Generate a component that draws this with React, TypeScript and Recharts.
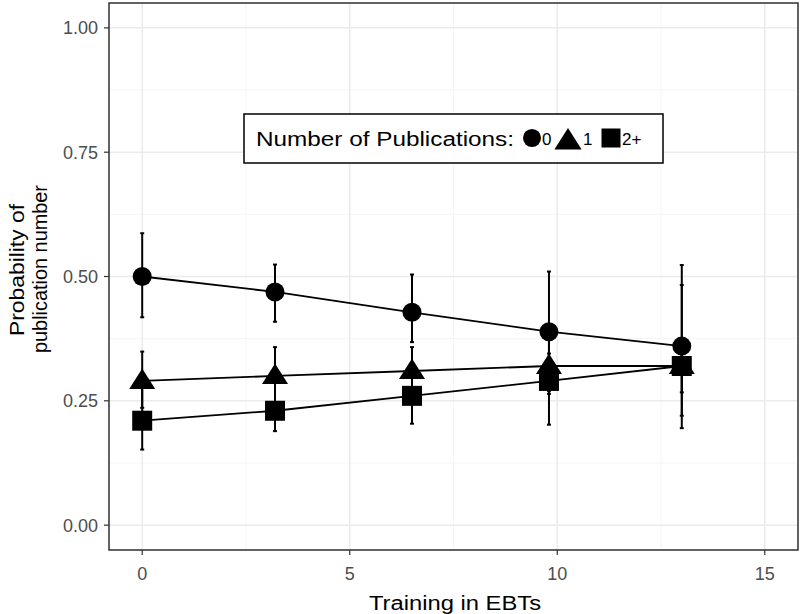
import React from 'react';
import { LineChart, Line, XAxis, YAxis, CartesianGrid, ErrorBar, ReferenceArea, Legend } from 'recharts';

// Training in EBTs (x positions of the estimates)
const training = [0, 3.2, 6.5, 9.8, 13];

// Number of publications: 0
const pub0 = [0.5, 0.469, 0.428, 0.389, 0.36];
const pub0Low = [0.418, 0.409, 0.368, 0.27, 0.195];
const pub0High = [0.587, 0.524, 0.504, 0.51, 0.523];

// Number of publications: 1
const pub1 = [0.29, 0.3, 0.31, 0.32, 0.32];
const pub1Low = [0.236, 0.242, 0.262, 0.264, 0.22];
const pub1High = [0.349, 0.358, 0.358, 0.39, 0.483];

// Number of publications: 2+
const pub2 = [0.21, 0.23, 0.26, 0.29, 0.32];
const pub2Low = [0.152, 0.189, 0.204, 0.202, 0.267];
const pub2High = [0.29, 0.29, 0.316, 0.345, 0.375];

const xTicks = [0, 5, 10, 15];
const xMinor = [2.5, 7.5, 12.5];
const yTicks = [0, 0.25, 0.5, 0.75, 1];
const yMinor = [0.125, 0.375, 0.625, 0.875];

const X_DOMAIN: [number, number] = [-0.8, 15.8];
const Y_DOMAIN: [number, number] = [-0.05, 1.05];

const FONT = '"Liberation Sans", Arial, sans-serif';

const data = training.map((x, i) => ({
  x,
  p0: pub0[i],
  e0: [pub0[i] - pub0Low[i], pub0High[i] - pub0[i]],
  p1: pub1[i],
  e1: [pub1[i] - pub1Low[i], pub1High[i] - pub1[i]],
  p2: pub2[i],
  e2: [pub2[i] - pub2Low[i], pub2High[i] - pub2[i]],
}));

type ShapeProps = { cx: number; cy: number; scale?: number };

const CircleMark = ({ cx, cy, scale = 1 }: ShapeProps) => (
  <circle cx={cx} cy={cy} r={9.5 * scale} fill="#000" />
);

const TriangleMark = ({ cx, cy, scale = 1 }: ShapeProps) => (
  <path
    d={`M${cx},${cy - 12.5 * scale} L${cx + 13 * scale},${cy + 8 * scale} L${cx - 13 * scale},${cy + 8 * scale} Z`}
    fill="#000"
  />
);

const SquareMark = ({ cx, cy, scale = 1 }: ShapeProps) => (
  <rect x={cx - 10 * scale} y={cy - 10 * scale} width={20 * scale} height={20 * scale} fill="#000" />
);

const marks: Record<string, React.FC<ShapeProps>> = {
  '0': CircleMark,
  '1': TriangleMark,
  '2+': SquareMark,
};

// legend symbol / label positions inside the box
const legendSlots = [
  { sx: 289, lx: 299 },
  { sx: 325, lx: 340 },
  { sx: 368, lx: 379 },
];

const renderLegend = (props: any) => {
  const payload = props.payload || [];
  return (
    <svg width={422} height={52} style={{ display: 'block' }}>
      <rect x={1} y={1} width={419} height={49} fill="#fff" stroke="#000" strokeWidth={1.5} />
      <text x={13} y={33} fontSize={20} fontFamily={FONT} fill="#000" textLength={258} lengthAdjust="spacingAndGlyphs">
        Number of Publications:
      </text>
      {payload.map((entry: any, i: number) => {
        const Mark = marks[entry.value];
        const slot = legendSlots[i];
        return (
          <g key={entry.value}>
            <Mark cx={slot.sx} cy={i === 1 ? 28 : 25} scale={i === 1 ? 1.05 : 0.95} />
            <text x={slot.lx} y={32} fontSize={17} fontFamily={FONT} fill="#000">
              {entry.value}
            </text>
          </g>
        );
      })}
    </svg>
  );
};

const renderYTitle = () => (
  <g>
    <text
      transform="translate(24,270) rotate(-90)"
      textAnchor="middle"
      fontSize={21}
      fontFamily={FONT}
      fill="#000"
      textLength={132}
      lengthAdjust="spacingAndGlyphs"
    >
      Probability of
    </text>
    <text
      transform="translate(47,269) rotate(-90)"
      textAnchor="middle"
      fontSize={21}
      fontFamily={FONT}
      fill="#000"
      textLength={168}
      lengthAdjust="spacingAndGlyphs"
    >
      publication number
    </text>
  </g>
);

const renderXTitle = () => (
  <text
    x={455}
    y={610}
    textAnchor="middle"
    fontSize={20}
    fontFamily={FONT}
    fill="#000"
    textLength={172}
    lengthAdjust="spacingAndGlyphs"
  >
    Training in EBTs
  </text>
);

const tickStyle = { fill: '#4d4d4d', fontSize: 18, fontFamily: FONT };

export default function App() {
  return (
    <div style={{ position: 'absolute', left: 0, top: 0, width: 800, height: 614, background: '#fff' }}>
      <LineChart width={800} height={614} data={data} margin={{ top: 3, right: 2, left: 0, bottom: 0 }}>
        <CartesianGrid
          stroke="#f2f2f2"
          strokeWidth={0.8}
          verticalValues={xMinor}
          horizontalValues={yMinor}
        />
        <CartesianGrid stroke="#ebebeb" strokeWidth={1.5} />
        <XAxis
          dataKey="x"
          type="number"
          domain={X_DOMAIN}
          allowDataOverflow
          ticks={xTicks}
          height={64}
          axisLine={false}
          tickLine={{ stroke: '#333', strokeWidth: 1.2 }}
          tickSize={5}
          tickMargin={12}
          tick={tickStyle}
          label={{ content: renderXTitle }}
        />
        <YAxis
          type="number"
          domain={Y_DOMAIN}
          allowDataOverflow
          ticks={yTicks}
          width={109}
          axisLine={false}
          tickLine={{ stroke: '#333', strokeWidth: 1.2 }}
          tickSize={5}
          tickMargin={6}
          tick={tickStyle}
          tickFormatter={(v: number) => v.toFixed(2)}
          label={{ content: renderYTitle }}
        />
        <ReferenceArea
          x1={X_DOMAIN[0]}
          x2={X_DOMAIN[1]}
          y1={Y_DOMAIN[0]}
          y2={Y_DOMAIN[1]}
          fill="none"
          stroke="#333"
          strokeWidth={1.5}
          ifOverflow="visible"
        />
        <Legend
          content={renderLegend}
          layout="horizontal"
          verticalAlign="middle"
          align="center"
          wrapperStyle={{ position: 'absolute', left: 243, top: 113, width: 422, height: 52 }}
        />
        <Line
          name="0"
          dataKey="p0"
          stroke="#000"
          strokeWidth={1.8}
          isAnimationActive={false}
          activeDot={false}
          dot={(p: any) => <CircleMark key={`c-${p.index}`} cx={p.cx} cy={p.cy} />}
        >
          <ErrorBar dataKey="e0" width={2} stroke="#000" strokeWidth={2} direction="y" />
        </Line>
        <Line
          name="1"
          dataKey="p1"
          stroke="#000"
          strokeWidth={1.8}
          isAnimationActive={false}
          activeDot={false}
          dot={(p: any) => <TriangleMark key={`t-${p.index}`} cx={p.cx} cy={p.cy} />}
        >
          <ErrorBar dataKey="e1" width={2} stroke="#000" strokeWidth={2} direction="y" />
        </Line>
        <Line
          name="2+"
          dataKey="p2"
          stroke="#000"
          strokeWidth={1.8}
          isAnimationActive={false}
          activeDot={false}
          dot={(p: any) => <SquareMark key={`s-${p.index}`} cx={p.cx} cy={p.cy} />}
        >
          <ErrorBar dataKey="e2" width={2} stroke="#000" strokeWidth={2} direction="y" />
        </Line>
      </LineChart>
    </div>
  );
}
